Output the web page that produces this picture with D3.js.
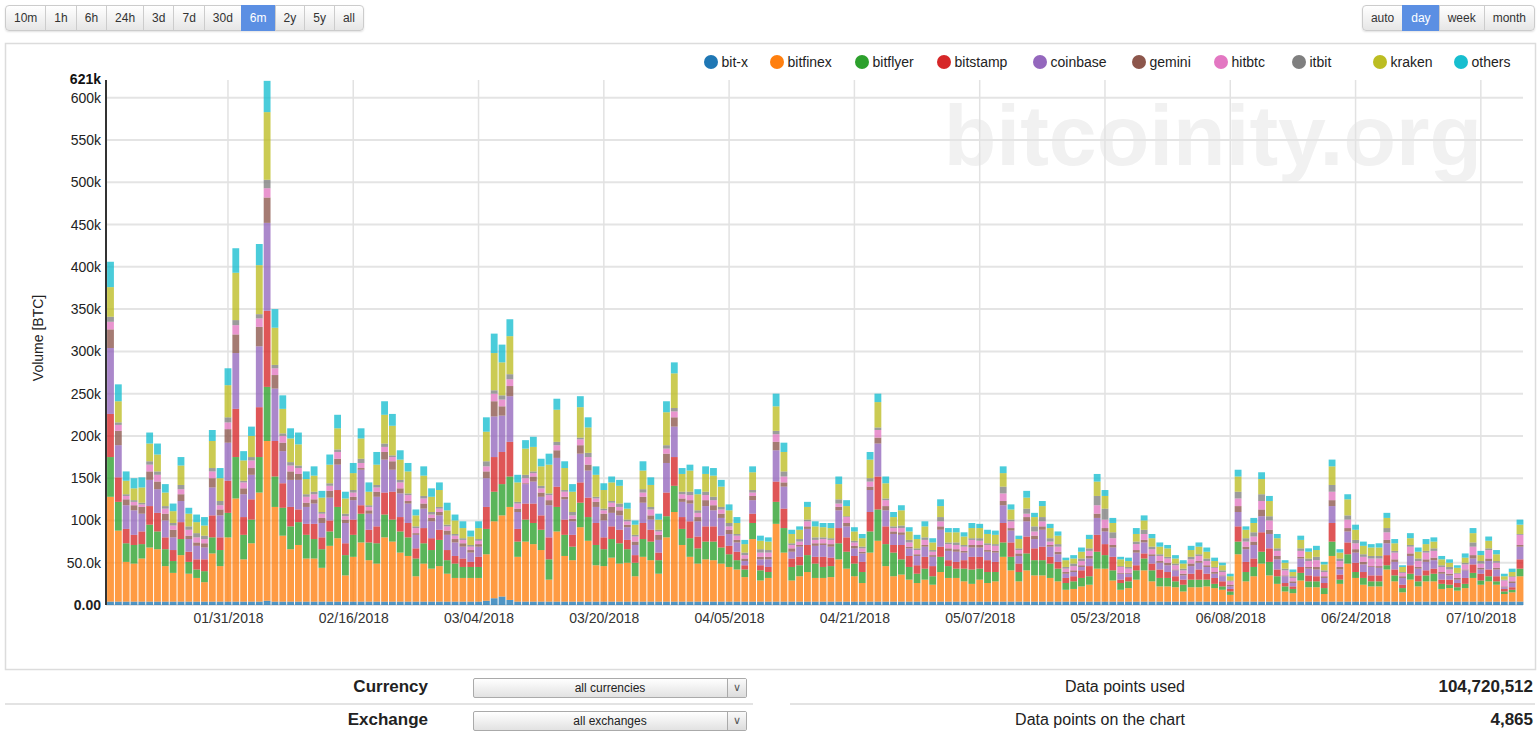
<!DOCTYPE html>
<html>
<head>
<meta charset="utf-8">
<script src="https://cdn.jsdelivr.net/npm/d3@7"></script>
<style>
  body { margin: 0; width: 1540px; height: 736px; overflow: hidden; position: relative; background: #fff;
         font-family: "Liberation Sans", Arial, sans-serif; color: #333; }
  svg { position: absolute; left: 0; top: 0; }
  .grp { position: absolute; top: 5px; display: flex; height: 26px; border-radius: 4px;
         box-shadow: 0 1px 2px rgba(0,0,0,0.12); }
  .grp span { display: block; padding: 0 8px; border: 1px solid #ccc; margin-left: -1px; line-height: 24px;
              font-size: 12px; color: #333; background: linear-gradient(#ffffff, #e6e6e6); }
  .grp span:first-child { margin-left: 0; border-radius: 4px 0 0 4px; }
  .grp span:last-child { border-radius: 0 4px 4px 0; }
  .grp span.on { background: #5b8fe3; border-color: #5b8fe3; color: #fff; }
  .lab { position: absolute; font-size: 17px; font-weight: bold; color: #222; text-align: right; width: 200px; }
  .txt { position: absolute; font-size: 16px; color: #222; text-align: right; width: 300px; }
  .num { position: absolute; font-size: 17px; font-weight: bold; color: #222; text-align: right; width: 200px; }
  .sel { position: absolute; left: 473px; width: 272px; height: 18px; border: 1px solid #aaa; border-radius: 2px;
         background: linear-gradient(#ffffff, #e2e2e2); font-size: 12px; line-height: 18px; text-align: center; color: #222; }
  .sel .arr { position: absolute; right: 0; top: 0; width: 18px; height: 18px; border-left: 1px solid #aaa;
              background: linear-gradient(#fafafa, #dcdcdc); font-size: 11px; line-height: 17px; color: #555; }
  .sep { position: absolute; height: 2px; background: #e3e3e3; }
</style>
</head>
<body>
<svg id="chart" width="1540" height="736"></svg>
<div id="ranges" class="grp" style="left:5px"></div>
<div id="steps" class="grp" style="right:5px"></div>
<div id="bottom"></div>
<script>
// daily volume per exchange, thousands of BTC, 01/16/2018 .. 07/15/2018
const seriesNames = ["bit-x", "bitfinex", "bitflyer", "bitstamp", "coinbase", "gemini", "hitbtc", "itbit", "kraken", "others"];
const seriesColors = ["#1f77b4", "#ff7f0e", "#2ca02c", "#d62728", "#9467bd", "#8c564b", "#e377c2", "#7f7f7f", "#bcbd22", "#17becf"];
const firstDay = "2018-01-16";

const bitx = [
  4,4,4,4,4,4,4,4,4,4, 4,4,4,4,4,4,4,4,4,4, 5,4,4,4,4,4,4,4,4,4,
  4,4,4,4,4,4,4,4,4,4, 4,4,4,4,4,4,4,4,5,8, 10,6,4,4,4,4,4,4,4,4,
  4,4,4,4,4,4,4,4,4,4, 4,4,4,4,4,4,4,4,4,4, 4,4,4,4,4,4,4,4,4,4,
  4,4,4,4,4,4,4,4,4,4, 4,4,4,4,4,4,4,4,4,4, 4,4,4,4,4,4,4,4,4,4,
  4,4,4,4,4,4,4,4,4,4, 4,4,4,4,4,4,4,4,4,4, 4,4,4,4,4,4,4,4,4,4,
  4,4,4,4,4,4,4,4,4,4, 4,4,4,4,4,4,4,4,4,4, 4,4,4,4,4,4,4,4,4,4, 4
];
const bitfinex = [
  124,84,47,45,51,64,62,42,34,55, 33,28,23,57,42,76,122,50,69,129, 189,112,78,62,67,51,51,40,66,75,
  31,53,70,49,45,76,71,58,54,30, 45,39,42,33,28,28,28,28,55,91, 96,110,53,71,68,61,26,83,54,49,
  88,72,43,42,52,45,46,30,53,49, 33,76,106,67,53,45,50,49,45,41, 38,29,74,25,28,92,58,25,30,35,
  28,28,29,50,39,30,22,58,72,42, 30,32,26,22,26,20,35,28,28,24, 21,26,22,24,53,37,24,37,31,31,
  28,24,14,15,18,20,39,39,25,14, 16,26,37,24,18,18,17,12,17,17, 18,16,14,8,56,24,30,45,31,21,
  12,10,25,17,17,9,54,21,45,28, 20,18,18,38,24,11,26,18,24,24, 15,16,13,16,28,20,24,20,9,11, 30
];
const bitflyer = [
  47,34,22,22,17,27,21,20,14,19, 14,10,13,19,19,29,49,29,28,42, 64,36,33,27,27,28,23,22,17,37,
  24,26,34,21,24,27,26,25,22,21, 24,22,31,16,17,13,13,13,30,35, 37,36,18,26,25,24,24,29,25,16,
  29,28,24,20,22,24,16,16,21,22, 16,25,31,19,22,18,21,22,19,15, 11,9,19,12,7,26,29,16,13,20,
  17,13,13,19,20,15,13,25,37,26, 28,18,15,11,13,10,18,14,11,15, 17,13,13,11,17,16,11,20,18,18,
  17,15,8,9,10,10,20,16,12,8, 8,11,14,13,10,10,7,8,9,9, 8,5,4,4,15,11,11,14,16,9,
  6,5,9,7,7,7,17,5,11,7, 8,6,6,5,7,5,7,6,7,9, 6,4,4,5,6,5,6,4,3,3, 9
];
const bitstamp = [
  51,29,17,12,15,22,22,14,13,20, 12,12,14,26,15,38,57,21,24,59, 90,42,29,23,15,13,18,14,13,20,
  14,18,10,15,20,26,33,17,17,12, 18,14,12,12,9,10,6,12,26,41, 38,41,15,19,23,17,26,24,18,14,
  24,23,26,14,15,16,11,9,19,14, 9,28,34,14,20,14,18,18,14,10, 10,5,11,6,6,24,23,10,10,12,
  8,12,10,18,17,9,12,23,39,21, 9,17,13,10,14,12,12,7,8,10, 15,14,14,12,23,17,10,20,14,16,
  8,8,6,6,9,12,20,13,16,4, 5,6,6,8,10,7,6,6,7,12, 7,7,6,3,18,12,10,23,16,8,
  4,3,7,7,6,6,22,6,14,11, 7,7,7,12,7,4,10,7,6,6, 5,6,5,7,10,8,8,6,3,3, 11
];
const coinbase = [
  78,38,28,29,21,31,28,20,15,25, 15,16,14,33,26,45,66,27,29,72, 104,62,38,32,35,20,24,17,27,30,
  24,23,42,19,35,39,26,28,23,16, 23,20,17,18,16,14,11,12,34,48, 43,54,20,23,26,22,38,34,24,16,
  34,32,19,20,16,17,15,12,24,12, 15,35,36,18,21,18,24,19,21,14, 11,5,16,7,9,37,26,8,12,19,
  13,14,13,21,13,9,10,26,39,19, 13,12,9,11,12,11,20,11,12,9, 11,11,10,11,21,14,9,18,11,20,
  12,9,5,5,4,9,20,15,11,7, 4,15,13,9,8,8,7,5,9,8, 8,5,6,3,17,15,16,19,17,12,
  8,4,10,8,8,6,20,6,13,12, 9,10,9,14,9,8,11,8,10,10, 7,5,4,9,7,5,10,8,2,5, 15
];
const gemini = [
  22,17,7,6,8,10,9,8,9,8, 4,4,5,11,7,16,22,7,8,23, 30,16,10,10,7,5,5,6,8,7,
  4,4,2,4,6,9,10,6,3,2, 6,4,4,5,4,4,3,3,8,18, 11,12,4,1,6,5,6,9,3,3,
  10,7,6,8,7,6,3,4,7,5, 6,11,11,4,4,5,7,6,5,5, 3,3,5,3,3,10,5,4,2,3,
  3,2,3,4,4,3,2,4,7,5, 3,3,2,2,2,2,4,3,3,2, 3,3,2,2,5,3,3,5,4,4,
  2,3,2,2,2,3,5,4,3,1, 1,3,3,2,2,3,1,2,3,2, 2,2,1,2,7,3,4,8,5,4,
  1,2,2,2,3,2,7,3,4,4, 3,1,2,4,3,2,3,2,3,3, 2,2,2,1,4,2,3,2,1,2, 2
];
const hitbtc = [
  9,7,4,4,3,8,8,6,5,6, 7,6,5,8,5,8,11,7,9,10, 11,8,8,7,7,7,6,5,6,8,
  4,5,6,4,5,6,5,7,7,6, 6,4,4,5,4,4,4,4,6,9, 8,8,6,6,4,5,6,6,6,4,
  7,9,4,4,5,4,4,6,5,7, 4,6,7,5,6,5,6,6,5,4, 5,4,4,5,5,9,7,4,4,6,
  4,5,5,4,7,4,4,6,9,7, 4,5,5,5,6,4,6,5,5,5, 6,5,6,6,9,8,4,4,5,6,
  4,6,4,5,5,6,10,10,8,7, 5,7,7,6,6,5,5,4,5,6, 5,5,4,4,9,6,6,10,11,6,
  6,4,7,7,8,5,10,7,10,7, 6,9,9,9,8,4,8,7,8,8, 6,5,5,6,10,5,10,6,7,5, 12
];
const itbit = [
  6,3,2,2,2,4,4,3,3,5, 4,5,4,4,5,6,6,2,4,5, 10,4,3,4,3,3,3,2,3,3,
  3,3,5,2,3,4,2,3,2,2, 3,3,2,2,2,2,2,2,6,4, 5,6,2,4,2,3,2,4,2,4,
  2,5,2,2,2,4,2,2,4,3, 2,4,4,3,4,3,4,4,3,4, 2,3,3,4,3,4,6,2,3,2,
  3,2,2,5,1,2,2,4,3,2, 2,3,3,2,3,2,5,2,3,2, 2,3,2,2,8,2,2,6,6,5,
  4,3,2,3,3,3,11,13,7,1, 2,3,5,3,2,2,2,2,3,2, 3,1,2,1,8,4,5,8,5,3,
  2,2,3,3,4,2,8,3,5,4, 3,3,3,5,2,1,2,3,2,3, 2,3,1,2,5,3,2,2,1,1, 1
];
const kraken = [
  35,25,16,14,18,21,20,16,14,23, 15,13,12,32,27,38,56,24,25,58, 80,44,29,28,25,18,19,17,22,25,
  18,20,24,16,24,34,35,24,26,13, 24,18,20,17,16,12,10,13,35,44, 39,45,23,31,29,23,34,38,26,24,
  36,30,26,22,22,21,13,12,22,26, 12,39,41,21,25,19,21,25,24,15, 13,10,21,10,10,29,23,11,11,15,
  13,12,12,18,12,11,10,22,30,18, 11,18,10,11,13,9,13,12,12,10, 12,12,11,11,16,12,11,13,11,13,
  12,10,8,6,8,11,17,15,11,8, 7,9,11,10,9,10,6,6,8,9, 8,7,6,5,18,10,11,18,18,12,
  7,5,10,8,8,7,22,7,19,12, 10,10,10,12,9,6,8,8,8,8, 7,5,6,6,11,7,9,8,4,5, 11
];
const others = [
  30,20,11,12,12,13,13,10,9,10, 7,9,10,13,12,20,29,11,11,25, 37,22,16,12,14,9,11,8,12,16,
  8,12,12,11,15,16,14,11,10,7, 11,10,9,9,7,8,7,8,17,23, 21,20,9,10,12,9,13,13,8,9,
  13,12,10,8,7,7,7,5,11,9, 7,13,13,7,7,6,9,9,8,7, 7,5,7,6,5,15,11,5,4,6,
  6,5,6,9,7,5,5,9,10,8, 6,6,5,5,6,5,8,5,5,5, 6,5,5,5,8,6,4,8,5,6,
  5,5,3,4,5,5,9,7,6,3, 4,7,6,5,5,4,4,4,5,5, 5,4,3,3,8,4,6,8,6,5,
  3,3,5,4,5,3,8,4,6,6, 5,4,5,6,5,2,6,5,6,5, 4,4,3,5,6,5,5,5,3,4, 6
];
const seriesValues = [bitx, bitfinex, bitflyer, bitstamp, coinbase, gemini, hitbtc, itbit, kraken, others];

const tickLabels = ["01/31/2018", "02/16/2018", "03/04/2018", "03/20/2018", "04/05/2018", "04/21/2018",
                    "05/07/2018", "05/23/2018", "06/08/2018", "06/24/2018", "07/10/2018"];
const yTicks = [0, 50000, 100000, 150000, 200000, 250000, 300000, 350000, 400000, 450000, 500000, 550000, 600000];
const yMax = 621000;

const rangeButtons = ["10m", "1h", "6h", "24h", "3d", "7d", "30d", "6m", "2y", "5y", "all"];
const stepButtons = ["auto", "day", "week", "month"];

// buttons
d3.select("#ranges").selectAll("span").data(rangeButtons).join("span")
    .classed("on", d => d === "6m").text(d => d);
d3.select("#steps").selectAll("span").data(stepButtons).join("span")
    .classed("on", d => d === "day").text(d => d);

const svg = d3.select("#chart");
const parseDay = d3.utcParse("%Y-%m-%d");
const parseTick = d3.utcParse("%m/%d/%Y");
const start = parseDay(firstDay);

const rows = bitfinex.map((_, i) => {
    const r = { date: d3.utcDay.offset(start, i) };
    seriesNames.forEach((n, k) => r[n] = seriesValues[k][i] * 1000);
    return r;
});

const plot = { left: 106, right: 1523, top: 80, bottom: 605 };
const x = d3.scaleUtc().domain([start, rows[rows.length - 1].date]).range([110.5, 1520]);
const y = d3.scaleLinear().domain([0, yMax]).range([plot.bottom, plot.top]);
const step = x(rows[1].date) - x(rows[0].date);
const bw = step - 1;

// outer box
svg.append("rect").attr("x", 5.5).attr("y", 43.5).attr("width", 1530).attr("height", 626)
    .attr("fill", "none").attr("stroke", "#dcdcdc").attr("stroke-width", 1.5);

// watermark
svg.append("text").attr("x", 1482).attr("y", 165).attr("text-anchor", "end")
    .attr("font-size", 86).attr("font-weight", "bold").attr("fill", "#f1f1f1")
    .text("bitcoinity.org");

// grid
const tickDates = tickLabels.map(parseTick);
svg.append("g").selectAll("line").data(yTicks).join("line")
    .attr("x1", plot.left).attr("x2", plot.right)
    .attr("y1", d => y(d)).attr("y2", d => y(d))
    .attr("stroke", "#e4e4e4").attr("stroke-width", 2);
svg.append("g").selectAll("line").data(tickDates).join("line")
    .attr("x1", d => x(d)).attr("x2", d => x(d))
    .attr("y1", plot.top).attr("y2", plot.bottom)
    .attr("stroke", "#e2e2e2").attr("stroke-width", 1.5);

// bars
const stacked = d3.stack().keys(seriesNames)(rows);
svg.append("g").selectAll("g").data(stacked).join("g")
    .attr("fill", (d, i) => seriesColors[i]).attr("fill-opacity", 0.78)
    .selectAll("rect").data(d => d).join("rect")
    .attr("x", d => x(d.data.date) - bw / 2)
    .attr("width", bw)
    .attr("y", d => y(d[1]))
    .attr("height", d => y(d[0]) - y(d[1]));

// axes
const yAxis = svg.append("g").attr("transform", `translate(${plot.left},0)`)
    .call(d3.axisLeft(y).tickValues(yTicks).tickFormat(d3.format(".3s")).tickSize(0).tickPadding(5));
yAxis.select(".domain").remove();
yAxis.selectAll("text").attr("font-size", 14).attr("fill", "#222")
    .attr("font-family", "Liberation Sans, Arial, sans-serif");
yAxis.selectAll(".tick").filter(d => d === 0).select("text").attr("font-weight", "bold");
svg.append("line").attr("x1", plot.left).attr("x2", plot.left).attr("y1", plot.top).attr("y2", plot.bottom)
    .attr("stroke", "#333").attr("stroke-width", 2);
svg.append("text").attr("x", plot.left - 5).attr("y", plot.top).attr("dy", "0.32em")
    .attr("text-anchor", "end").attr("font-size", 14).attr("font-weight", "bold").attr("fill", "#111")
    .text(d3.format(".3s")(yMax));

const xAxis = svg.append("g").attr("transform", `translate(0,${plot.bottom})`)
    .call(d3.axisBottom(x).tickValues(tickDates).tickFormat(d3.utcFormat("%m/%d/%Y")).tickSize(0).tickPadding(8));
xAxis.select(".domain").remove();
xAxis.selectAll("text").attr("font-size", 14).attr("fill", "#333")
    .attr("font-family", "Liberation Sans, Arial, sans-serif");

svg.append("text").attr("transform", "translate(43,338) rotate(-90)")
    .attr("text-anchor", "middle").attr("font-size", 14).attr("fill", "#222")
    .text("Volume [BTC]");

// legend (marker centres as laid out in the original page)
const legendX = [711, 777, 862, 944, 1040, 1139, 1221, 1299, 1380, 1461];
const legend = svg.append("g").attr("font-size", 14).attr("fill", "#222")
    .selectAll("g").data(seriesNames).join("g")
    .attr("transform", (d, i) => `translate(${legendX[i]},62)`);
legend.append("circle").attr("r", 7).attr("fill", (d, i) => seriesColors[i]);
legend.append("text").attr("x", 10.5).attr("dy", "0.35em").text(d => d);

// bottom panel
const bottom = d3.select("#bottom");
const infoRows = [
    { label: "Currency", select: "all currencies", text: "Data points used", value: "104,720,512", top: 677 },
    { label: "Exchange", select: "all exchanges", text: "Data points on the chart", value: "4,865", top: 710 }
];
infoRows.forEach(r => {
    bottom.append("div").attr("class", "lab").style("left", "228px").style("top", (r.top) + "px").text(r.label);
    const s = bottom.append("div").attr("class", "sel").style("top", (r.top + 1) + "px").text(r.select);
    s.append("div").attr("class", "arr").text("\u2228");
    bottom.append("div").attr("class", "txt").style("left", "885px").style("top", (r.top + 1) + "px").text(r.text);
    bottom.append("div").attr("class", "num").style("left", "1333px").style("top", (r.top) + "px").text(r.value);
});
bottom.append("div").attr("class", "sep").style("left", "5px").style("width", "748px").style("top", "703px");
bottom.append("div").attr("class", "sep").style("left", "790px").style("width", "745px").style("top", "703px");
</script>
</body>
</html>
